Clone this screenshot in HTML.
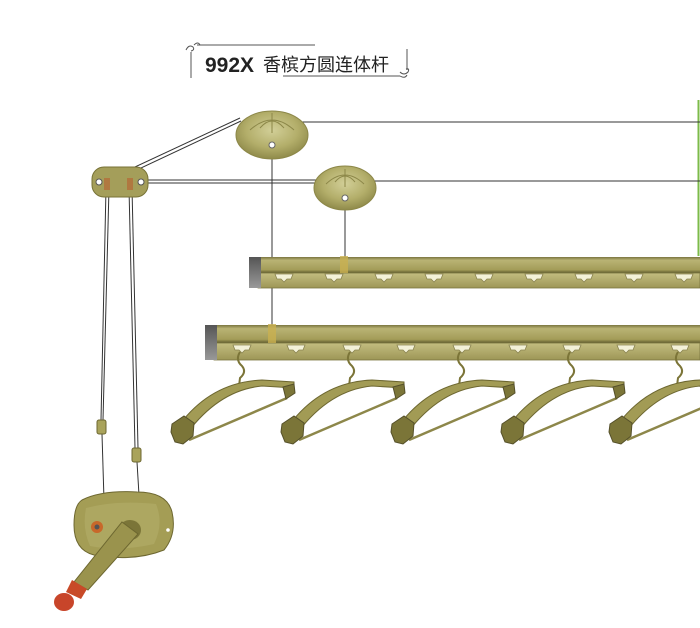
<!DOCTYPE html>
<html><head><meta charset="utf-8"><style>
html,body{margin:0;padding:0;background:#fff;}
svg{display:block}
</style></head><body>
<svg width="700" height="628" viewBox="0 0 700 628" xmlns="http://www.w3.org/2000/svg">
<defs>
<radialGradient id="pg" cx="50%" cy="40%" r="60%">
<stop offset="0" stop-color="#d2cf98"/><stop offset="0.6" stop-color="#b3ae6a"/><stop offset="1" stop-color="#8f8a4a"/>
</radialGradient>
<linearGradient id="bt" x1="0" y1="0" x2="0" y2="1">
<stop offset="0" stop-color="#7a7540"/><stop offset="0.2" stop-color="#b9b374"/><stop offset="0.8" stop-color="#a39c58"/><stop offset="1" stop-color="#5f5b2e"/>
</linearGradient>
<linearGradient id="bb" x1="0" y1="0" x2="0" y2="1">
<stop offset="0" stop-color="#c3bd80"/><stop offset="1" stop-color="#9d9656"/>
</linearGradient>
<linearGradient id="cap" x1="0" y1="0" x2="0" y2="1">
<stop offset="0" stop-color="#555"/><stop offset="1" stop-color="#999"/>
</linearGradient>
<g id="slot"><path d="M-9,-4 h18 l-2,5 h-4 l-3,3 l-3,-3 h-4 z" fill="#f3f1d8" stroke="#8a8450" stroke-width="0.8"/></g>
<g id="hanger">
<path d="M240,352 q-5,8 2,14 q5,6 -2,12 l-1,8" fill="none" stroke="#7c7538" stroke-width="2"/>
<path d="M180,424 Q212,382 262,380 L294,382 L294,388 L262,386 Q220,390 188,432 Z" fill="#a29b55" stroke="#6d6730" stroke-width="1"/>
<line x1="189" y1="440" x2="287" y2="398" stroke="#8d874a" stroke-width="2.5"/>
<path d="M172,424 l12,-8 l10,7 l-1,13 l-10,8 l-8,-2 l-4,-10 z" fill="#7b7538" stroke="#55502a" stroke-width="1"/>
<path d="M283,387 l11,-3 l1,9 l-9,6 z" fill="#7b7538" stroke="#55502a" stroke-width="1"/>
</g>
</defs>

<!-- title -->
<g fill="none" stroke="#555" stroke-width="1">
<line x1="197" y1="45" x2="315" y2="45"/>
<line x1="191" y1="52" x2="191" y2="78"/>
<line x1="283" y1="76" x2="400" y2="76"/>
<line x1="407" y1="49" x2="407" y2="70"/>
<path d="M186,50 q3,-6 7,-3 q2,3 -2,4 M194,45 q4,-4 6,0"/>
<path d="M400,72 q4,4 8,0 q2,-4 -2,-3 M400,76 q5,3 7,-1"/>
</g>
<text x="205" y="72" font-family="Liberation Sans, sans-serif" font-weight="bold" font-size="21" fill="#222">992X</text>
<text x="263" y="71" font-family="Liberation Sans, 'Noto Sans CJK SC', sans-serif" font-size="18" fill="#222">香槟方圆连体杆</text>

<line x1="698.5" y1="100" x2="698.5" y2="256" stroke="#7dbb4a" stroke-width="2"/>

<g stroke="#333" stroke-width="1" fill="none">
<line x1="300" y1="122" x2="700" y2="122"/>
<line x1="370" y1="181" x2="700" y2="181"/>
<line x1="130" y1="180" x2="316" y2="180"/>
<line x1="132" y1="183" x2="316" y2="183"/>
<line x1="107" y1="180" x2="240" y2="118"/>
<line x1="109" y1="183" x2="241" y2="121"/>
<line x1="272" y1="145" x2="272" y2="325"/>
<line x1="345" y1="198" x2="345" y2="258"/>
<line x1="106" y1="188" x2="101" y2="420"/>
<line x1="109" y1="188" x2="103" y2="420"/>
<line x1="129" y1="188" x2="135" y2="448"/>
<line x1="132" y1="188" x2="138" y2="448"/>
<line x1="102" y1="434" x2="104" y2="500"/>
<line x1="137" y1="462" x2="139" y2="495"/>
</g>
<rect x="97" y="420" width="9" height="14" rx="2" fill="#a9a35b" stroke="#6d6730"/>
<rect x="132" y="448" width="9" height="14" rx="2" fill="#a9a35b" stroke="#6d6730"/>

<rect x="92" y="167" width="56" height="30" rx="12" fill="#a49e5a" stroke="#777236"/>
<circle cx="99" cy="182" r="3" fill="#fff" stroke="#555"/>
<circle cx="141" cy="182" r="3" fill="#fff" stroke="#555"/>
<rect x="104" y="178" width="6" height="12" fill="#b07840"/>
<rect x="127" y="178" width="6" height="12" fill="#b07840"/>

<g>
<ellipse cx="272" cy="135" rx="36" ry="24" fill="url(#pg)" stroke="#8c8748"/>
<path d="M250,130 q22,-20 44,0 M260,128 q12,-14 24,0 M272,113 v20" stroke="#8c8748" fill="none"/>
<circle cx="272" cy="145" r="3" fill="#fff" stroke="#666"/>
<ellipse cx="345" cy="188" rx="31" ry="22" fill="url(#pg)" stroke="#8c8748"/>
<path d="M326,184 q19,-18 38,0 M335,182 q10,-12 20,0 M345,169 v18" stroke="#8c8748" fill="none"/>
<circle cx="345" cy="198" r="3" fill="#fff" stroke="#666"/>
</g>

<rect x="258" y="257" width="442" height="16" fill="url(#bt)"/>
<rect x="258" y="273" width="442" height="15" fill="url(#bb)" stroke="#7a7540" stroke-width="0.8"/>
<rect x="249" y="257" width="12" height="31" fill="url(#cap)"/>
<rect x="340" y="256" width="8" height="17" fill="#c9b050" opacity="0.8"/>
<g>
<use href="#slot" x="284" y="278"/><use href="#slot" x="334" y="278"/><use href="#slot" x="384" y="278"/>
<use href="#slot" x="434" y="278"/><use href="#slot" x="484" y="278"/><use href="#slot" x="534" y="278"/>
<use href="#slot" x="584" y="278"/><use href="#slot" x="634" y="278"/><use href="#slot" x="684" y="278"/>
</g>

<rect x="214" y="325" width="486" height="18" fill="url(#bt)"/>
<rect x="214" y="343" width="486" height="17" fill="url(#bb)" stroke="#7a7540" stroke-width="0.8"/>
<rect x="205" y="325" width="12" height="35" fill="url(#cap)"/>
<rect x="268" y="324" width="8" height="19" fill="#c9b050" opacity="0.8"/>
<g>
<use href="#slot" x="242" y="349"/><use href="#slot" x="296" y="349"/><use href="#slot" x="352" y="349"/>
<use href="#slot" x="406" y="349"/><use href="#slot" x="462" y="349"/><use href="#slot" x="518" y="349"/>
<use href="#slot" x="572" y="349"/><use href="#slot" x="626" y="349"/><use href="#slot" x="680" y="349"/>
</g>

<use href="#hanger"/>
<use href="#hanger" x="110"/>
<use href="#hanger" x="220"/>
<use href="#hanger" x="330"/>
<use href="#hanger" x="438"/>

<path d="M82,500 q20,-10 55,-8 q30,0 35,20 q5,22 -8,38 q-30,12 -70,5 q-20,-5 -20,-30 q0,-20 8,-25 z" fill="#a49d55" stroke="#6d6730"/>
<path d="M86,508 q30,-8 70,-4 q8,20 -2,40 q-35,8 -64,2 q-8,-18 -4,-38 z" fill="#b1ab66" opacity="0.7"/>
<circle cx="168" cy="530" r="1.8" fill="#fff"/>
<circle cx="97" cy="527" r="6" fill="#c8682a"/>
<circle cx="97" cy="527" r="2.5" fill="#555"/>
<ellipse cx="130" cy="530" rx="11" ry="10" fill="#7b7538"/>
<path d="M122,522 L138,534 L88,590 L74,582 Z" fill="#9a934d" stroke="#6d6730"/>
<path d="M72,580 l15,9 l-6,10 l-15,-7 z" fill="#c84a28"/>
<ellipse cx="64" cy="602" rx="10" ry="9" fill="#c8452a"/>
</svg>
</body></html>
